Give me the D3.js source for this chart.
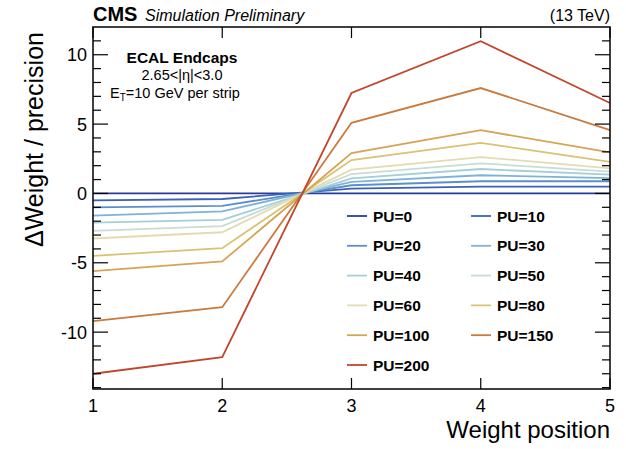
<!DOCTYPE html>
<html>
<head>
<meta charset="utf-8">
<script src="https://cdn.jsdelivr.net/npm/d3@7"></script>
<style>
  html, body { margin: 0; padding: 0; background: #fff; }
  svg { display: block; font-family: "Liberation Sans", Arial, Helvetica, sans-serif; }
</style>
</head>
<body>
<svg id="chart" width="626" height="449"></svg>
<script>
// ---- data ----
const positions = [1, 2, 3, 4, 5];
const puLabels = ["PU=0", "PU=10", "PU=20", "PU=30", "PU=40", "PU=50", "PU=60", "PU=80", "PU=100", "PU=150", "PU=200"];
const pu0   = [0, 0, 0, 0, 0];
const pu10  = [-0.5, -0.4, 0.34, 0.49, 0.49];
const pu20  = [-1.0, -0.9, 0.59, 0.88, 0.88];
const pu30  = [-1.6, -1.3, 0.83, 1.31, 1.11];
const pu40  = [-2.1, -1.9, 1.09, 1.76, 1.35];
const pu50  = [-2.7, -2.35, 1.4, 2.17, 1.57];
const pu60  = [-3.25, -2.8, 1.71, 2.62, 1.81];
const pu80  = [-4.5, -3.95, 2.41, 3.65, 2.28];
const pu100 = [-5.6, -4.9, 2.91, 4.56, 2.96];
const pu150 = [-9.2, -8.2, 5.09, 7.6, 4.56];
const pu200 = [-13.0, -11.8, 7.24, 10.98, 6.52];
const seriesValues = [pu0, pu10, pu20, pu30, pu40, pu50, pu60, pu80, pu100, pu150, pu200];
const colors = ["#2a3a9e", "#3a62b8", "#5b8fcc", "#7db3d8", "#a4cfd8", "#c8dcd4", "#e2dcb0", "#d9c273", "#d6a454", "#c97a3c", "#c0472c"];
const yMajorTicks = [-10, -5, 0, 5, 10];
const yMinorTicks = [-14, -13, -12, -11, -9, -8, -7, -6, -4, -3, -2, -1, 1, 2, 3, 4, 6, 7, 8, 9, 11];
const xTicks = [1, 2, 3, 4, 5];

// ---- layout ----
const L = 93, R = 610, T = 27, B = 389;
const svg = d3.select("#chart");
const x = d3.scaleLinear().domain([1, 5]).range([L, R]);
const y = d3.scaleLinear().domain([-14.1, 12]).range([B, T]);

// lines
const line = d3.line().x((d, i) => x(positions[i])).y(d => y(d));
const gLines = svg.append("g");
seriesValues.forEach((vals, k) => {
  gLines.append("path")
    .attr("d", line(vals))
    .attr("fill", "none")
    .attr("stroke", colors[k])
    .attr("stroke-width", 1.8);
});

// frame
svg.append("rect").attr("x", L).attr("y", T).attr("width", R - L).attr("height", B - T)
  .attr("fill", "none").attr("stroke", "#000").attr("stroke-width", 1.5);

// y ticks (left & right, inward)
const gAx = svg.append("g").attr("stroke", "#000").attr("stroke-width", 1.2);
yMajorTicks.forEach(v => {
  gAx.append("line").attr("x1", L).attr("x2", L + 15).attr("y1", y(v)).attr("y2", y(v));
  gAx.append("line").attr("x1", R).attr("x2", R - 15).attr("y1", y(v)).attr("y2", y(v));
});
yMinorTicks.forEach(v => {
  gAx.append("line").attr("x1", L).attr("x2", L + 8).attr("y1", y(v)).attr("y2", y(v));
  gAx.append("line").attr("x1", R).attr("x2", R - 8).attr("y1", y(v)).attr("y2", y(v));
});
// x ticks (bottom & top, inward)
xTicks.forEach(v => {
  gAx.append("line").attr("x1", x(v)).attr("x2", x(v)).attr("y1", B).attr("y2", B - 11);
  gAx.append("line").attr("x1", x(v)).attr("x2", x(v)).attr("y1", T).attr("y2", T + 11);
});

// tick labels
yMajorTicks.forEach(v => {
  svg.append("text").attr("x", L - 6).attr("y", y(v) + 6.5)
    .attr("text-anchor", "end").attr("font-size", 18).text(v);
});
xTicks.forEach(v => {
  svg.append("text").attr("x", x(v)).attr("y", B + 23)
    .attr("text-anchor", "middle").attr("font-size", 18).text(v);
});

// axis titles
svg.append("text").attr("x", R).attr("y", 438).attr("text-anchor", "end")
  .attr("font-size", 24).text("Weight position");
svg.append("text").attr("transform", "translate(43,247) rotate(-90)")
  .attr("text-anchor", "start").attr("font-size", 25).text("ΔWeight / precision");

// header
svg.append("text").attr("x", L).attr("y", 21).attr("font-size", 20).attr("font-weight", "bold").text("CMS");
svg.append("text").attr("x", 145).attr("y", 21).attr("font-size", 16).attr("font-style", "italic").text("Simulation Preliminary");
svg.append("text").attr("x", R).attr("y", 21).attr("text-anchor", "end").attr("font-size", 16).text("(13 TeV)");

// annotation
svg.append("text").attr("x", 182).attr("y", 63).attr("text-anchor", "middle")
  .attr("font-size", 15.5).attr("font-weight", "bold").text("ECAL Endcaps");
svg.append("text").attr("x", 182).attr("y", 80).attr("text-anchor", "middle")
  .attr("font-size", 14.5).text("2.65<|η|<3.0");
const et = svg.append("text").attr("x", 110).attr("y", 98).attr("font-size", 14.5);
et.append("tspan").text("E");
et.append("tspan").attr("font-size", 10).attr("dy", 3).text("T");
et.append("tspan").attr("dy", -3).text("=10 GeV per strip");

// legend
const legCols = [347, 471];
const legRow0 = 216, legDy = 29.8;
puLabels.forEach((lab, k) => {
  const cx = legCols[k % 2];
  const cy = legRow0 + Math.floor(k / 2) * legDy;
  svg.append("line").attr("x1", cx).attr("x2", cx + 20).attr("y1", cy).attr("y2", cy)
    .attr("stroke", colors[k]).attr("stroke-width", 1.8);
  svg.append("text").attr("x", cx + 26).attr("y", cy + 5.5)
    .attr("font-size", 15.5).attr("font-weight", "bold").text(lab);
});
</script>
</body>
</html>
